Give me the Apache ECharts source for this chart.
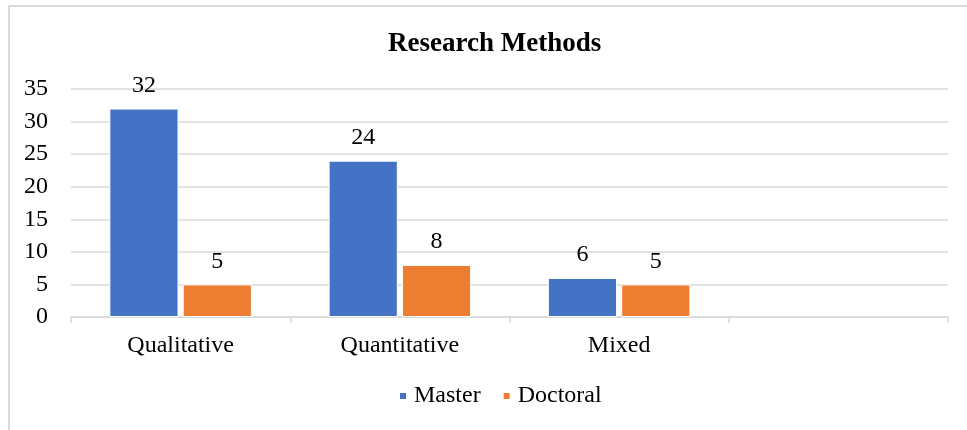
<!DOCTYPE html>
<html><head><meta charset="utf-8">
<script src="https://cdn.jsdelivr.net/npm/echarts@6/dist/echarts.min.js"></script>
<style>html,body{margin:0;padding:0;background:#fff}#c{width:967px;height:430px}</style>
</head><body><div id="c"></div>
<script>
var categories = ['Qualitative', 'Quantitative', 'Mixed', ''];
var masterValues = [32, 24, 6, null];
var doctoralValues = [5, 8, 5, null];
var yTicks = [0, 5, 10, 15, 20, 25, 30, 35];

var font = '"Liberation Serif", "Times New Roman", serif';
var chart = echarts.init(document.getElementById('c'));
chart.setOption({
  animation: false,
  backgroundColor: '#fff',
  textStyle: {fontFamily: font},
  graphic: [
    {type: 'line', shape: {x1: 8.5, y1: 6, x2: 967, y2: 6}, style: {stroke: '#d9d9d9', lineWidth: 2}, silent: true},
    {type: 'line', shape: {x1: 9, y1: 6, x2: 9, y2: 430}, style: {stroke: '#d9d9d9', lineWidth: 2}, silent: true}
  ],
  title: {
    text: 'Research Methods',
    left: 388, top: 31, padding: 0,
    textStyle: {fontFamily: font, fontWeight: 'bold', fontSize: 27, color: '#000'}
  },
  legend: {
    data: ['Master', 'Doctoral'],
    left: 398, top: 384, padding: 0,
    itemWidth: 8, itemHeight: 8, itemGap: 21,
    icon: 'rect',
    textStyle: {fontFamily: font, fontSize: 24, color: '#000', padding: [0, 0, 0, 2]}
  },
  grid: {left: 71, right: 19, top: 89, bottom: 113, containLabel: false},
  xAxis: {
    type: 'category',
    data: categories,
    axisLine: {lineStyle: {color: '#d9d9d9', width: 1.5}},
    axisTick: {show: true, length: 6, lineStyle: {color: '#d9d9d9', width: 1.5}},
    axisLabel: {fontFamily: font, fontSize: 24, color: '#000', margin: 17}
  },
  yAxis: {
    type: 'value',
    min: yTicks[0], max: yTicks[yTicks.length - 1], interval: 5,
    axisLine: {show: false},
    axisTick: {show: false},
    splitLine: {lineStyle: {color: '#d9d9d9', width: 1.5}},
    axisLabel: {fontFamily: font, fontSize: 24, color: '#000', margin: 23}
  },
  series: [
    {
      name: 'Master', type: 'bar', data: masterValues,
      barGap: '6%', barCategoryGap: '35%',
      itemStyle: {color: '#4472C4', borderColor: '#fff', borderWidth: 1},
      label: {show: true, position: 'top', distance: 11, fontFamily: font, fontSize: 24, color: '#000'}
    },
    {
      name: 'Doctoral', type: 'bar', data: doctoralValues,
      itemStyle: {color: '#ED7D31', borderColor: '#fff', borderWidth: 1},
      label: {show: true, position: 'top', distance: 11, fontFamily: font, fontSize: 24, color: '#000'}
    }
  ]
});
</script></body></html>
